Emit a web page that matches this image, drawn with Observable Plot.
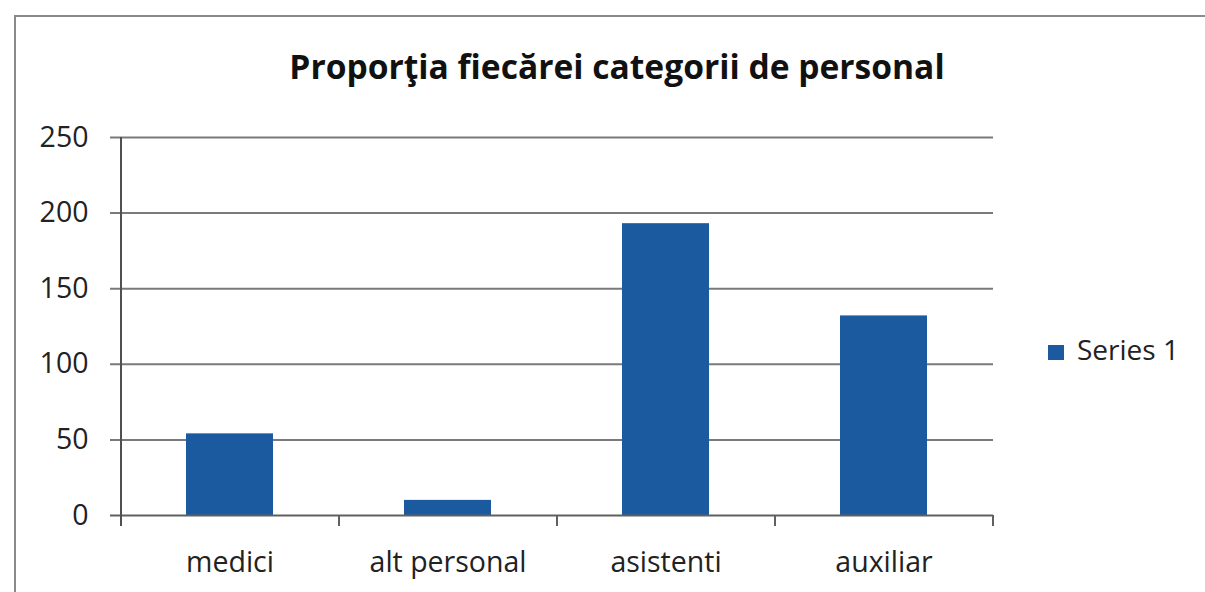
<!DOCTYPE html>
<html>
<head>
<meta charset="utf-8">
<script src="https://cdn.jsdelivr.net/npm/d3@7"></script>
<script src="https://cdn.jsdelivr.net/npm/@observablehq/plot@0.6"></script>
<style>
  html, body { margin: 0; padding: 0; background: #fff; }
  #wrap { position: relative; width: 1205px; height: 592px; overflow: hidden; background: #fff; }
  #border { position: absolute; left: 14px; top: 15px; width: 1300px; height: 700px;
            border-top: 2px solid #8a8a8a; border-left: 2px solid #8a8a8a; }
  #chart { position: absolute; left: 0; top: 0; }
  #title { position: absolute; left: 0; width: 1234px; top: 50px; text-align: center;
           font: bold 33.6px/1 "Open Sans", sans-serif; color: #111; white-space: nowrap; }
  #legend { position: absolute; left: 1048px; top: 335px; font: 28px/1 "Open Sans", sans-serif; color: #222;
            white-space: nowrap; }
  #legend .sw { position: absolute; left: 0; top: 10px; width: 16px; height: 15px; }
  #legend .lt { position: absolute; left: 29px; top: 0; }
</style>
</head>
<body>
<div id="wrap">
  <div id="border"></div>
  <div id="chart"></div>
  <div id="title"></div>
  <div id="legend"><div class="sw"></div><div class="lt"></div></div>
</div>
<script>
const titleText = "Proporţia fiecărei categorii de personal";
const categories = ["medici", "alt personal", "asistenti", "auxiliar"];
const values = [54, 10, 193, 132];
const yTicks = [0, 50, 100, 150, 200, 250];
const seriesName = "Series 1";
const barColor = "#1b5a9e";

const data = categories.map((c, i) => ({category: c, value: values[i]}));

const W = 1205, H = 592;
const mL = 121, mR = 212, mT = 137, mB = 77;
const step = (W - mL - mR) / categories.length;

const chart = Plot.plot({
  width: W,
  height: H,
  marginLeft: mL,
  marginRight: mR,
  marginTop: mT,
  marginBottom: mB,
  style: {fontFamily: "'Open Sans', sans-serif", fontSize: "28.5px", color: "#222", background: "transparent", overflow: "visible"},
  x: {domain: categories, paddingInner: 0.6, paddingOuter: 0.3, label: null},
  y: {domain: [0, 250], label: null},
  marks: [
    Plot.ruleY(yTicks.filter(d => d > 0), {stroke: "#7a7a7a", strokeWidth: 2, insetLeft: -11}),
    Plot.barY(data, {x: "category", y: "value", fill: barColor}),
    Plot.ruleY([0], {stroke: "#606060", strokeWidth: 2, insetLeft: -11}),
    Plot.ruleX([categories[0]], {x: d => d, dx: -step / 2, y1: 250, y2: 0, insetBottom: -11, stroke: "#505050", strokeWidth: 2}),
    Plot.ruleX(categories, {x: d => d, dx: step / 2, y1: 0, y2: 0, insetBottom: -11, stroke: "#606060", strokeWidth: 2}),
    Plot.axisY({ticks: yTicks, tickSize: 0, tickPadding: 33, fill: "#222", label: null}),
    Plot.axisX({tickSize: 0, tickPadding: 36, fill: "#222", label: null})
  ]
});
document.getElementById("chart").appendChild(chart);
document.getElementById("title").textContent = titleText;
document.querySelector("#legend .sw").style.background = barColor;
document.querySelector("#legend .lt").textContent = seriesName;
</script>
</body>
</html>
